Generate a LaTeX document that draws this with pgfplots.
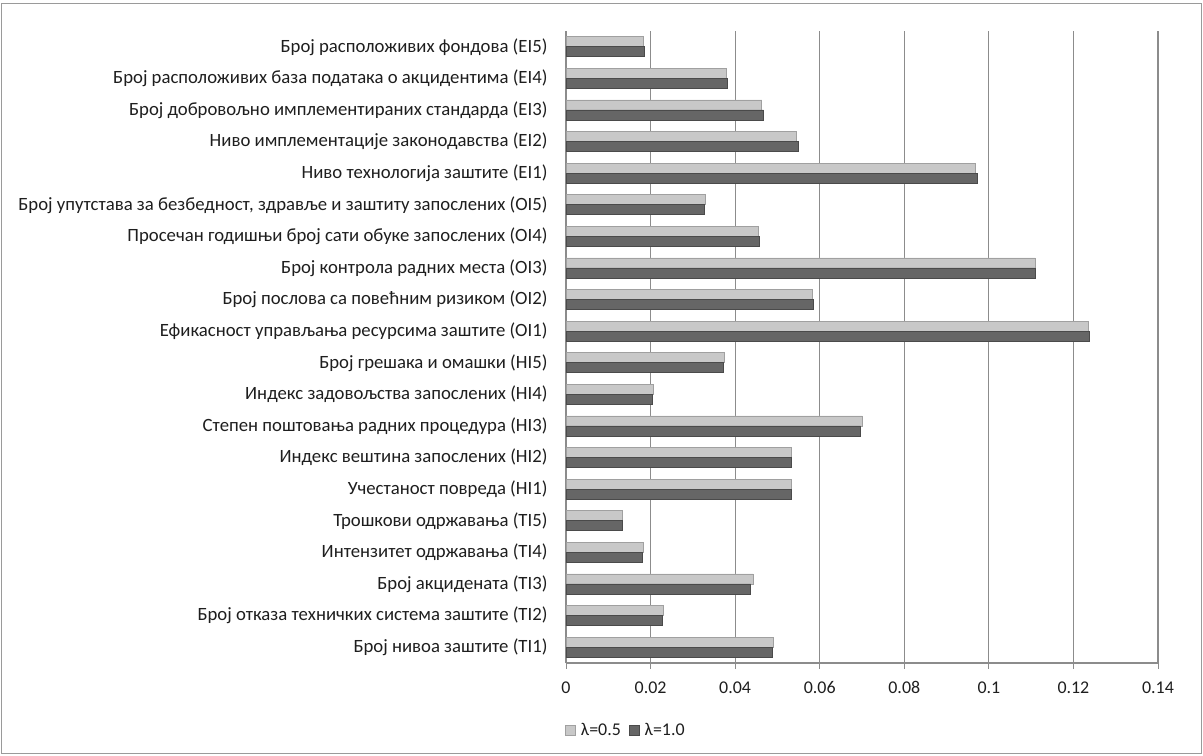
\documentclass[border=0pt]{standalone}
\usepackage{fontspec}
\setmainfont{Carlito}
\usepackage{pgfplots}
\pgfplotsset{compat=1.18}
\usepackage{pgfplotstable}
\definecolor{lightbar}{HTML}{C8C8C8}
\definecolor{lightedge}{HTML}{A0A0A0}
\definecolor{darkbar}{HTML}{666666}
\definecolor{darkedge}{HTML}{4A4A4A}
\definecolor{gridgray}{HTML}{8C8C8C}
\definecolor{framegray}{HTML}{9A9A9A}
\definecolor{txt}{HTML}{1E1E1E}
\pgfplotstableread{
y a b
0 0.0490 0.0487
1 0.0230 0.0229
2 0.0442 0.0437
3 0.0182 0.0180
4 0.0133 0.0133
5 0.0533 0.0533
6 0.0534 0.0533
7 0.0701 0.0697
8 0.0206 0.0205
9 0.0374 0.0373
10 0.1236 0.1238
11 0.0583 0.0584
12 0.1110 0.1110
13 0.0456 0.0457
14 0.0330 0.0327
15 0.0967 0.0972
16 0.0545 0.0550
17 0.0463 0.0467
18 0.0380 0.0382
19 0.0184 0.0185
}\data
\begin{document}
\begin{tikzpicture}
\useasboundingbox (0,0) rectangle (1203bp,756bp);
\draw[color=framegray, line width=1bp] (1.5bp,2.5bp) rectangle (1201.5bp,752.5bp);
\begin{axis}[
  at={(566bp,93bp)}, anchor=south west,
  scale only axis, width=592bp, height=632bp,
  xmin=0, xmax=0.14, ymin=-0.5, ymax=19.5,
  axis x line*=bottom, axis y line*=left,
  axis line style={draw=gridgray, line width=1.2bp},
  xtick={0,0.02,0.04,0.06,0.08,0.1,0.12,0.14},
  xticklabels={0,0.02,0.04,0.06,0.08,0.1,0.12,0.14},
  ytick={0,...,19},
  minor ytick={-0.5,0.5,...,19.5},
  yticklabels={
    Број нивоа заштите (TI1),
    Број отказа техничких система заштите (TI2),
    Број акцидената (TI3),
    Интензитет одржавања (TI4),
    Трошкови одржавања (TI5),
    Учестаност повреда (HI1),
    Индекс вештина запослених (HI2),
    Степен поштовања радних процедура (HI3),
    Индекс задовољства запослених (HI4),
    Број грешака и омашки (HI5),
    Ефикасност управљања ресурсима заштите (OI1),
    Број послова са повећним ризиком (OI2),
    Број контрола радних места (OI3),
    Просечан годишњи број сати обуке запослених (OI4),
    {Број упутстава за безбедност, здравље и заштиту запослених (OI5)},
    Ниво технологија заштите (EI1),
    Ниво имплементације законодавства (EI2),
    Број добровољно имплементираних стандарда (EI3),
    Број расположивих база података о акцидентима (EI4),
    Број расположивих фондова (EI5)},
  ytick style={draw=none},
  minor tick style={draw=gridgray, line width=1bp},
  xtick style={draw=gridgray, line width=1bp},
  tick align=outside,
  major tick length=6bp, minor tick length=6bp,
  xmajorgrids,
  major grid style={draw=gridgray, line width=1.2bp},
  xticklabel style={font=\fontsize{18}{20}\selectfont, text=txt, yshift=-9bp},
  yticklabel style={font=\fontsize{18.8}{20}\selectfont, text=txt, xshift=-9bp},
  legend columns=2,
  legend style={at={(0,0)}, anchor=west, yshift=-67bp, xshift=-4bp, draw=none, fill=none,
    font=\fontsize{18}{20}\selectfont, text=txt,
    /tikz/every even column/.append style={column sep=6bp}},
  legend image code/.code={\fill[#1] (0bp,-5bp) rectangle (10bp,5bp); \path (13bp,0bp);},
]
\addplot[xbar, bar width=10bp, bar shift=5bp, fill=lightbar, draw=lightedge, line width=0.8bp] table[x=a,y=y]{\data};
\addlegendentry{λ=0.5}
\addplot[xbar, bar width=10bp, bar shift=-5bp, fill=darkbar, draw=darkedge, line width=0.8bp] table[x=b,y=y]{\data};
\addlegendentry{λ=1.0}
\end{axis}
\end{tikzpicture}
\end{document}
